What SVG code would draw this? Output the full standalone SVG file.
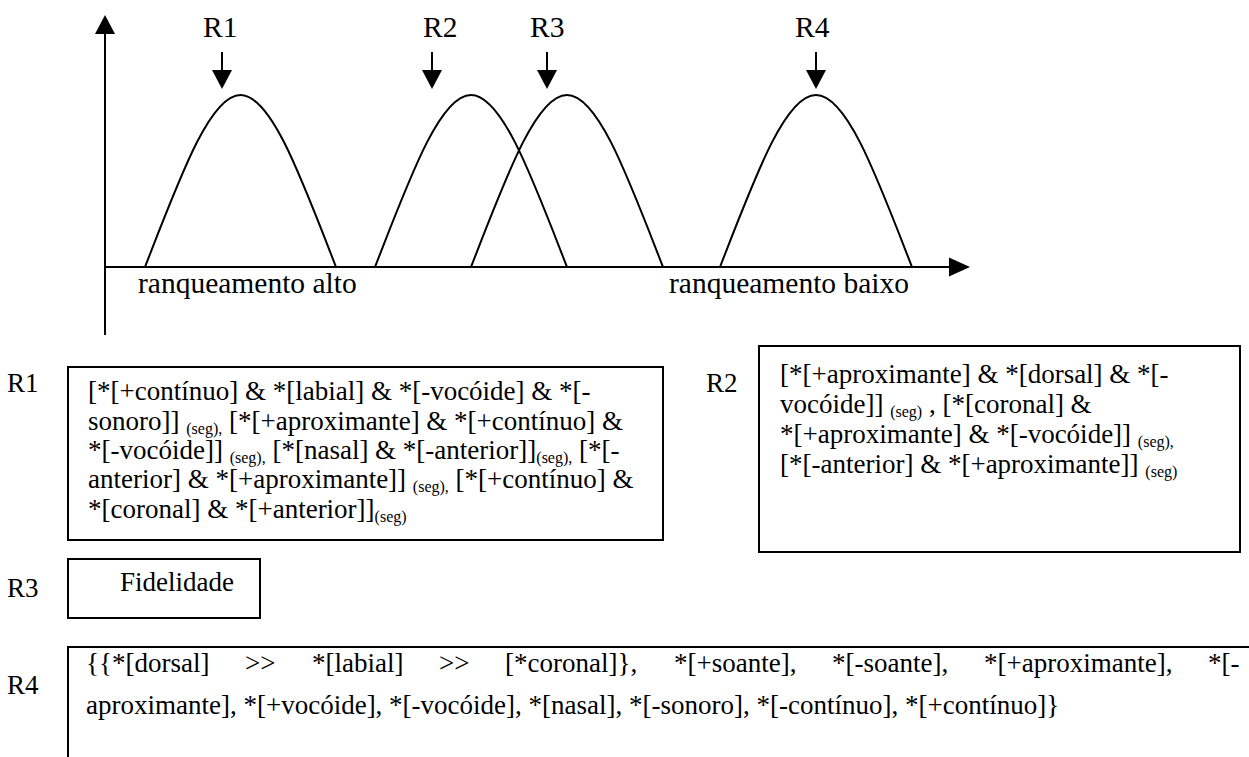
<svg xmlns="http://www.w3.org/2000/svg" width="1249" height="757" viewBox="0 0 1249 757">
<style>
text{font-family:"Liberation Serif","Times New Roman",serif;fill:#000}
.lbl{font-size:29.5px}
.rl{font-size:27px}
.t{font-size:27px}
.s{font-size:16px}
.ln{stroke:#000;stroke-width:2;fill:none}
.box{stroke:#000;stroke-width:2;fill:none}
.head{fill:#000;stroke:none}
</style>
<rect width="1249" height="757" fill="#fff"/>
<g id="axes">
  <line class="ln" x1="105" y1="30" x2="105" y2="335"/>
  <polygon class="head" points="105,15 95,34 115,34"/>
  <line class="ln" x1="104" y1="267" x2="952" y2="267"/>
  <polygon class="head" points="970,267 949,257.5 949,276.5"/>
  <text class="lbl" x="138" y="293">ranqueamento alto</text>
  <text class="lbl" x="669" y="293">ranqueamento baixo</text>
</g>
<g id="curve-R1"><path class="ln" d="M145 267 C180 177 210 95 240.5 95 C271 95 301 177 336 267"/></g>
<g id="curve-R2"><path class="ln" d="M375 267 C410 177 440 95 471 95 C502 95 532 177 567 267"/></g>
<g id="curve-R3"><path class="ln" d="M471 267 C506 177 536 95 567 95 C598 95 628 177 663 267"/></g>
<g id="curve-R4"><path class="ln" d="M720 267 C755 177 785 95 816 95 C847 95 877 177 912 267"/></g>
<g id="pointer-labels">
  <text class="lbl" x="203" y="37">R1</text>
  <text class="lbl" x="423" y="37">R2</text>
  <text class="lbl" x="530" y="37">R3</text>
  <text class="lbl" x="795" y="37">R4</text>
</g>
<g id="connectors">
  <line class="ln" x1="222" y1="52" x2="222" y2="72"/><polygon class="head" points="212,70 232,70 222,89"/>
  <line class="ln" x1="432" y1="52" x2="432" y2="72"/><polygon class="head" points="422,70 442,70 432,89"/>
  <line class="ln" x1="547" y1="52" x2="547" y2="72"/><polygon class="head" points="537,70 557,70 547,89"/>
  <line class="ln" x1="816" y1="52" x2="816" y2="72"/><polygon class="head" points="806,70 826,70 816,89"/>
</g>
<g id="box-R1">
  <text class="rl" x="7" y="392">R1</text>
  <rect class="box" x="68" y="367" width="595" height="173"/>
  <text class="t" x="88" y="400">[*[+contínuo] &amp; *[labial] &amp; *[-vocóide] &amp; *[-</text>
  <text class="t" x="88" y="430">sonoro]] <tspan class="s" dy="4">(seg),</tspan><tspan dy="-4"> [*[+aproximante] &amp; *[+contínuo] &amp;</tspan></text>
  <text class="t" x="88" y="459">*[-vocóide]] <tspan class="s" dy="4">(seg),</tspan><tspan dy="-4"> [*[nasal] &amp; *[-anterior]]</tspan><tspan class="s" dy="4">(seg),</tspan><tspan dy="-4"> [*[-</tspan></text>
  <text class="t" x="88" y="488">anterior] &amp; *[+aproximante]] <tspan class="s" dy="4">(seg),</tspan><tspan dy="-4"> [*[+contínuo] &amp;</tspan></text>
  <text class="t" x="88" y="518">*[coronal] &amp; *[+anterior]]<tspan class="s" dy="4">(seg)</tspan></text>
</g>
<g id="box-R2">
  <text class="rl" x="706" y="392">R2</text>
  <rect class="box" x="759" y="346" width="481" height="206"/>
  <text class="t" x="780" y="383">[*[+aproximante] &amp; *[dorsal] &amp; *[-</text>
  <text class="t" x="780" y="413">vocóide]] <tspan class="s" dy="4">(seg)</tspan><tspan dy="-4"> , [*[coronal] &amp;</tspan></text>
  <text class="t" x="780" y="443">*[+aproximante] &amp; *[-vocóide]] <tspan class="s" dy="4">(seg),</tspan></text>
  <text class="t" x="780" y="473">[*[-anterior] &amp; *[+aproximante]] <tspan class="s" dy="4">(seg)</tspan></text>
</g>
<g id="box-R3">
  <text class="rl" x="7" y="597">R3</text>
  <rect class="box" x="68" y="559" width="192" height="59"/>
  <text class="t" x="120" y="591">Fidelidade</text>
</g>
<g id="box-R4">
  <text class="rl" x="7" y="694">R4</text>
  <path class="box" d="M68 757 V647 H1249"/>
  <text class="t" y="672"><tspan x="86">{{*[dorsal]</tspan><tspan x="245">&gt;&gt;</tspan><tspan x="312">*[labial]</tspan><tspan x="439">&gt;&gt;</tspan><tspan x="505">[*coronal]},</tspan><tspan x="674">*[+soante],</tspan><tspan x="832">*[-soante],</tspan><tspan x="984">*[+aproximante],</tspan><tspan x="1208">*[-</tspan></text>
  <text class="t" x="86" y="714">aproximante], *[+vocóide], *[-vocóide], *[nasal], *[-sonoro], *[-contínuo], *[+contínuo]}</text>
</g>
</svg>
